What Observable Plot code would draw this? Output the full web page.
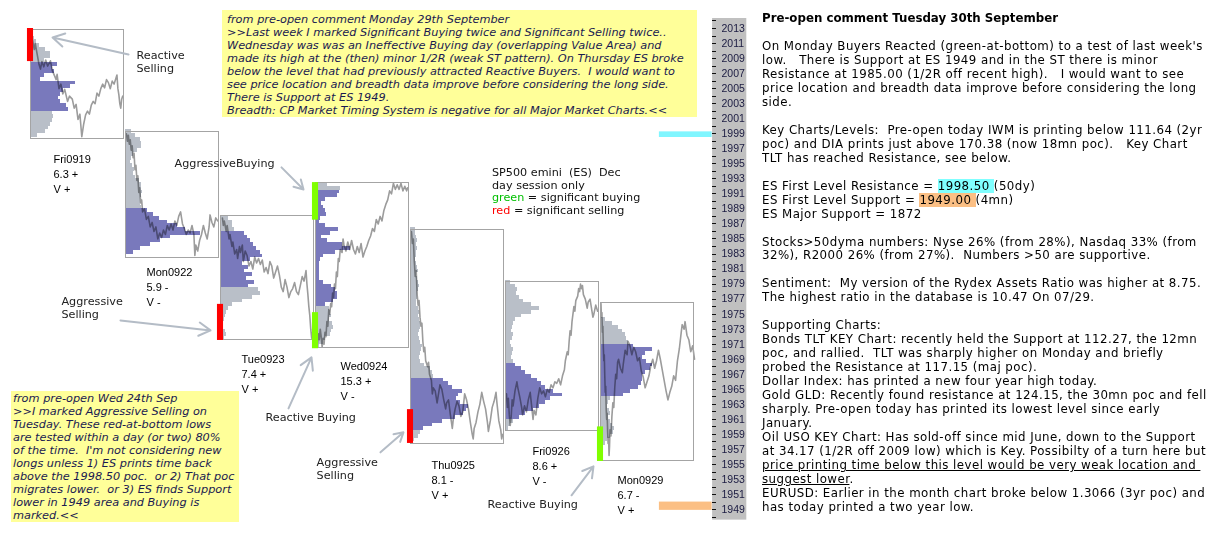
<!DOCTYPE html>
<html><head><meta charset="utf-8">
<script src="https://cdn.jsdelivr.net/npm/d3@7"></script>
<script src="https://cdn.jsdelivr.net/npm/@observablehq/plot@0.6"></script>
<style>
body{margin:0;background:#fff;}
#wrap{position:relative;width:1226px;height:533px;overflow:hidden;font-family:"DejaVu Sans",sans-serif;}
#chart{position:absolute;left:0;top:0;}
.note{position:absolute;background:#ffff99;font-style:italic;color:#1a1a50;font-size:11.3px;line-height:13px;white-space:pre;box-sizing:border-box;}
#panel{position:absolute;left:762px;top:12px;font-size:11.8px;letter-spacing:0.45px;color:#000;}
#panel .ln{height:13.97px;line-height:13.97px;white-space:pre;}
#legend{position:absolute;left:492px;top:167px;font-size:11.2px;color:#111;}
#legend .ln{height:12.7px;line-height:12.7px;white-space:pre;}
.b{font-weight:bold;font-size:11.8px;letter-spacing:0;}
.u{text-decoration:underline;}
.hc{background:#80ffff}.ho{background:#fbbf84}
.g{color:#00c000}.r{color:#ff0000}
</style></head>
<body><div id="wrap"><div id="chart"></div>
<div id="note1" class="note" style="left:222px;top:10px;width:475px;height:107px;padding:3px 0 0 5px;"></div>
<div id="note2" class="note" style="left:11px;top:391px;width:228px;height:131px;padding:1px 0 0 2px;"></div>
<div id="legend"></div>
<div id="panel"></div>
</div>
<script>
// ---- data ----
const days = ["Fri0919","Mon0922","Tue0923","Wed0924","Thu0925","Fri0926","Mon0929"];
const dayHigh = [2012.75,1999.25,1988,1992.5,1986.25,1979.25,1976.5];
const dayLow  = [1998.25,1982.5,1971.5,1970.5,1957.75,1959.5,1955.5];
const rangeStat = ["6.3 +","5.9 -","7.4 +","15.3 +","8.1 -","8.6 +","6.7 -"];
const volStat = ["V +","V -","V +","V -","V +","V -","V +"];
const vaLow  = [2002,1983,1978.5,1976,1959.5,1961,1964];
const vaHigh = [2008.5,1989,1986,1991.5,1966.5,1968.5,1971];
const profileStart = [1998.5,1983,1971.5,1970.5,1958,1959.5,1957.5];
const profile0 = [7,15,18,20,22,23,22,38,36,30,28,30,33,40,45,10,14,24,22,27,14,20,20,15,9,6,4];
const profile1 = [8,15,25,35,45,75,60,52,42,34,28,22,16,15,15,16,17,16,16,14,10,8,9,7,5,6,8,12,16,16,15,10,6];
const profile2 = [4,6,5,3,3,4,5,6,8,12,22,32,40,38,28,34,26,32,24,28,22,30,42,40,36,33,30,27,24,14,12,12,8];
const profile3 = [4,8,10,15,16,18,17,14,16,15,14,10,18,22,22,20,16,8,4,4,4,4,4,5,8,20,35,27,12,6,15,23,10,4,5,11,10,8,6,10,22,24,25,12];
const profile4 = [4,8,10,13,22,32,45,53,56,58,50,46,48,52,42,38,33,23,22,20,14,10,9,10,11,12,10,9,8,9,10,10,9,8,9,8,6,6,7,7,8,9,8,7,6,8,7,6,5,6,6,7,6,7,6,5,5];
const profile5 = [3,5,8,14,20,28,34,40,45,57,48,40,36,32,26,20,16,10,8,6,7,8,6,5,7,8,6,7,8,10,16,26,34,26,18,14,11,12,10,5];
const profile6 = [5,7,10,13,14,12,10,8,10,9,7,8,10,23,30,38,41,42,42,45,50,52,46,42,45,52,33,28,26,25,22,18,12,5];
const profiles = [profile0,profile1,profile2,profile3,profile4,profile5,profile6];
// price path [percent of day slot, price]
const line0 = [[2,2011.5],[4,2010.2],[5,2011.0],[7,2009.6],[9,2008.2],[10.5,2007.6],[12,2008.6],[14,2007.9],[16,2008.8],[18,2008.0],[21,2008.7],[23,2007.4],[25,2006.8],[27,2006.2],[28,2006.9],[30,2005.0],[32,2005.6],[34,2004.3],[36,2004.9],[39,2003.3],[41,2004.0],[44,2003.6],[46,2002.4],[48,2002.9],[50,2000.9],[52,2001.6],[54,1998.6],[56,2000.3],[58,2001.5],[60,2002.0],[62,2001.6],[64,2002.8],[66,2003.3],[68,2003.0],[70,2004.4],[72,2004.0],[74,2005.0],[76,2005.6],[78,2005.1],[80,2006.2],[82,2005.8],[84,2005.0],[86,2006.0],[88,2005.6],[90,2006.4],[91,2006.8],[92,2005.0],[93,2004.2],[94,2003.0],[95,2002.4],[96,2003.6],[97,2004.0]];
const line1 = [[1,1999.0],[2,1998.0],[3,1998.8],[4,1997.6],[5,1998.2],[6,1996.8],[7,1997.4],[8,1995.8],[9,1996.4],[10,1994.2],[11,1994.8],[12,1992.8],[13,1993.4],[14,1991.2],[15,1991.8],[16,1989.8],[17,1990.2],[18,1988.6],[20,1989.0],[22,1987.6],[24,1988.0],[26,1986.6],[28,1987.2],[30,1986.0],[32,1986.6],[34,1985.0],[36,1985.8],[38,1985.2],[40,1986.2],[42,1985.6],[44,1986.8],[46,1986.2],[48,1987.0],[50,1986.2],[52,1987.4],[54,1986.8],[56,1988.0],[58,1988.6],[60,1987.0],[62,1986.4],[64,1985.6],[66,1986.2],[68,1985.8],[70,1986.8],[72,1985.6],[73,1982.8],[74,1984.2],[76,1983.4],[78,1984.8],[80,1985.6],[82,1986.8],[84,1985.8],[86,1985.0],[88,1986.6],[89,1988.2],[91,1987.2],[93,1986.6],[95,1987.8],[97,1987.4]];
const line2 = [[2,1987.8],[3,1986.8],[4,1987.4],[6,1986.0],[7,1986.8],[9,1985.0],[10,1985.6],[12,1984.0],[13,1984.6],[15,1983.0],[17,1983.6],[18,1982.4],[20,1984.0],[21,1983.2],[23,1984.2],[24,1982.0],[26,1983.4],[28,1982.8],[30,1981.4],[32,1982.0],[34,1981.0],[36,1982.6],[38,1981.8],[40,1982.4],[42,1981.6],[44,1982.2],[46,1980.6],[48,1981.2],[50,1980.4],[52,1982.0],[54,1981.4],[56,1979.8],[58,1980.6],[60,1981.4],[62,1980.2],[64,1978.6],[66,1978.0],[68,1979.6],[70,1978.6],[72,1977.2],[74,1978.0],[76,1978.4],[78,1979.2],[80,1978.0],[82,1977.6],[84,1978.8],[86,1980.0],[88,1979.4],[90,1980.8],[91,1979.0],[92,1977.6],[93,1976.0],[94,1974.8],[95,1973.0],[96,1971.8],[97,1972.6]];
const line3 = [[1,1972.0],[2,1971.0],[3,1972.4],[4,1971.6],[5,1973.0],[6,1972.0],[7,1970.6],[8,1971.8],[9,1971.0],[10,1972.6],[11,1972.0],[12,1974.0],[13,1973.4],[14,1975.6],[15,1975.0],[16,1976.4],[17,1976.0],[18,1977.8],[19,1977.2],[20,1979.0],[21,1978.4],[22,1980.6],[23,1980.0],[24,1982.4],[25,1982.0],[26,1983.6],[28,1983.2],[29,1985.0],[30,1984.2],[32,1983.4],[34,1984.6],[36,1983.6],[38,1984.8],[40,1983.6],[42,1983.0],[44,1984.0],[46,1983.2],[48,1984.4],[50,1982.6],[52,1983.4],[54,1984.0],[56,1984.8],[58,1985.4],[60,1986.4],[62,1986.0],[64,1987.6],[66,1987.0],[68,1988.0],[70,1987.4],[72,1988.8],[74,1989.6],[76,1990.2],[78,1991.4],[80,1991.0],[82,1992.4],[84,1991.6],[86,1992.2],[88,1991.6],[90,1992.4],[92,1991.4],[94,1992.0],[96,1991.4],[97,1991.8]];
const line4 = [[1,1986.0],[2,1984.4],[3,1985.0],[4,1982.0],[5,1980.0],[6,1980.8],[7,1977.6],[8,1976.2],[9,1976.8],[10,1974.6],[11,1973.4],[12,1973.8],[13,1971.4],[14,1970.0],[15,1970.6],[16,1968.8],[18,1968.0],[19,1968.6],[20,1967.0],[22,1966.2],[23,1964.4],[24,1965.2],[26,1964.8],[28,1963.2],[29,1964.0],[31,1965.6],[33,1965.0],[35,1963.6],[37,1962.4],[38,1963.2],[40,1963.6],[42,1961.6],[44,1959.8],[45,1961.0],[47,1962.4],[49,1963.4],[51,1962.8],[53,1961.4],[55,1962.0],[57,1964.4],[59,1963.6],[61,1962.4],[63,1960.6],[65,1959.0],[66,1958.4],[67,1959.8],[69,1960.6],[71,1962.0],[73,1963.0],[75,1964.6],[77,1963.4],[79,1962.4],[81,1960.6],[82,1959.4],[84,1960.8],[86,1962.6],[88,1963.4],[90,1964.6],[91,1963.2],[93,1960.8],[95,1959.6],[96,1958.4],[97,1959.0]];
const line5 = [[1,1964.4],[2,1962.6],[3,1963.8],[4,1961.6],[5,1960.2],[6,1961.4],[7,1963.6],[8,1962.8],[10,1964.8],[12,1966.0],[13,1965.2],[15,1964.0],[17,1962.6],[18,1961.6],[20,1962.8],[22,1962.0],[24,1963.6],[26,1964.6],[27,1963.4],[29,1961.0],[30,1962.2],[32,1961.6],[34,1963.8],[36,1965.2],[38,1964.4],[40,1964.8],[42,1964.0],[44,1965.0],[46,1964.6],[48,1965.6],[50,1965.2],[52,1966.0],[54,1965.8],[56,1966.4],[58,1965.6],[60,1966.8],[62,1967.6],[63,1968.8],[65,1970.0],[66,1969.6],[67,1971.4],[68,1972.8],[69,1972.2],[70,1974.0],[72,1976.0],[73,1975.4],[74,1976.8],[76,1977.4],[77,1978.4],[78,1978.0],[79,1979.0],[80,1978.4],[81,1978.8],[82,1977.6],[84,1977.0],[86,1975.8],[87,1976.6],[89,1977.0],[90,1976.2],[92,1974.6],[93,1975.0],[95,1976.2],[97,1975.4]];
const line6 = [[0.5,1976.4],[1,1974.6],[1.5,1975.2],[2,1972.6],[2.5,1973.4],[3,1970.6],[3.5,1968.8],[4,1969.6],[4.5,1966.8],[5,1964.6],[5.5,1965.4],[6,1962.4],[6.5,1961.0],[7,1961.8],[7.5,1959.4],[8,1957.8],[8.5,1958.6],[9,1956.2],[9.5,1957.4],[10,1959.6],[11,1958.8],[12,1961.4],[13,1963.2],[14,1962.6],[15,1965.2],[16,1967.0],[17,1966.4],[18,1968.6],[19,1969.0],[21,1967.8],[23,1967.2],[24,1968.4],[26,1970.2],[28,1969.6],[29,1971.4],[31,1970.8],[33,1969.6],[35,1970.6],[37,1970.0],[39,1968.8],[41,1969.2],[43,1967.4],[45,1966.6],[47,1965.2],[49,1966.0],[51,1966.8],[53,1968.2],[55,1969.0],[57,1967.8],[59,1968.8],[61,1970.2],[63,1969.0],[65,1967.6],[67,1966.2],[69,1964.8],[71,1963.6],[73,1964.6],[75,1965.4],[77,1966.8],[79,1966.2],[81,1968.8],[83,1970.4],[85,1972.6],[86,1973.6],[88,1973.0],[89,1974.0],[91,1972.2],[93,1971.6],[95,1970.0],[97,1970.8],[99,1969.0]];
const lines = [line0,line1,line2,line3,line4,line5,line6];
// significant activity bars: day, from, to, kind
const sigDay  = [0,2,3,3,4,6];
const sigFrom = [2008.6,1971.5,1987.5,1970.4,1957.8,1955.4];
const sigTo   = [2013.0,1976.3,1992.5,1975.2,1962.3,1960.0];
const sigKind = ["sell","sell","buy","buy","sell","buy"];
// key levels
const levelNames = ["First Level Resistance","First Level Support"];
const levelLow  = [1998.5,1948.9];
const levelHigh = [1999.25,1950.0];
const axisLabels = [2013,2011,2009,2007,2005,2003,2001,1999,1997,1995,1993,1991,1989,1987,1985,1983,1981,1979,1977,1975,1973,1971,1969,1967,1965,1963,1961,1959,1957,1955,1953,1951,1949];
const annText = ["Reactive","Selling","AggressiveBuying","Aggressive","Selling","Reactive Buying","Aggressive","Selling","Reactive Buying"];

// ---- layout (data units: day slot, price) ----
const annPos = [[1.116,2009.41],[1.116,2007.68],[1.516,1995.05],[0.326,1976.70],[0.326,1974.97],[2.474,1961.27],[3.011,1955.29],[3.011,1953.56],[4.811,1949.70]];
const arrowPos = [[1.032,2009.54,0.232,2011.80],[2.642,1994.52,2.874,1991.59],[0.947,1974.17,1.895,1972.84],[2.716,1962.47,2.958,1969.25],[3.684,1956.62,3.926,1959.28],[5.695,1950.90,5.926,1954.76]];
const labelPos = [[0.242,1995.85],[1.221,1980.82],[2.221,1969.25],[3.263,1968.32],[4.221,1955.16],[5.284,1957.02],[6.179,1953.16]];
const BLUE = "#7979bc", GREY = "#b9bfc8";

const rows = [];
profiles.forEach((arr,i)=>arr.forEach((w,k)=>{const p=profileStart[i]+k*0.5; rows.push({day:i,p,w,va:p>=vaLow[i]&&p<vaHigh[i]});}));
const path = [];
lines.forEach((arr,i)=>arr.forEach(([t,p])=>path.push({day:i,x:i+t/100,p})));
const boxes = days.map((d,i)=>({i,hi:dayHigh[i],lo:dayLow[i],label:`${d}\n${rangeStat[i]}\n${volStat[i]}`,lx:labelPos[i][0],ly:labelPos[i][1]}));
const sigs = sigDay.map((d,k)=>({d,a:sigFrom[k],b:sigTo[k],c:sigKind[k]==="buy"?"#80ff00":"#ff0000"}));
const levels = levelNames.map((n,k)=>({n,a:levelLow[k],b:levelHigh[k],c:k===0?"#80f6ff":"#fbbf84"}));
const anns = annText.map((t,k)=>({t,x:annPos[k][0],y:annPos[k][1]}));
const arrows = arrowPos.map(a=>({x1:a[0],y1:a[1],x2:a[2],y2:a[3]}));

const chart = Plot.plot({
  width:760, height:533, margin:0,
  x:{domain:[0,7], range:[30,695], axis:null},
  y:{domain:[1949,2013], range:[509.1,28], axis:null},
  style:{background:"transparent", overflow:"visible"},
  marks:[
    Plot.rect([0],{x1:7.18,x2:7.54,y1:1947.6,y2:2014.33,fill:"#c0c0c0"}),
    Plot.ruleY(d3.range(1948,2015),{y:d=>d,x1:7.18,x2:7.225,stroke:"#111",strokeWidth:1,shapeRendering:"crispEdges"}),
    Plot.text(axisLabels,{x:7.274,y:d=>d,text:d=>String(d),textAnchor:"start",fontFamily:"Liberation Sans",fontSize:10.5,fill:"#1a1a40"}),
    Plot.rect(levels,{x1:6.62,x2:7.175,y1:"a",y2:"b",fill:"c"}),
    Plot.rect(rows,{x1:"day",x2:d=>d.day+d.w/95,y1:"p",y2:d=>d.p+0.5,fill:d=>d.va?BLUE:GREY,shapeRendering:"crispEdges"}),
    Plot.line(path,{x:"x",y:"p",z:"day",stroke:"#9c9c9c",strokeWidth:1.6,mixBlendMode:"multiply"}),
    Plot.rect(boxes,{x1:"i",x2:d=>d.i+0.98,y1:"lo",y2:"hi",fill:"none",stroke:"#a4a4a4",strokeWidth:1,shapeRendering:"crispEdges"}),
    Plot.rect(sigs,{x1:d=>d.d-0.032,x2:d=>d.d+0.032,y1:"a",y2:"b",fill:"c"}),
    Plot.text(boxes,{x:"lx",y:"ly",text:"label",textAnchor:"start",lineAnchor:"top",dy:-5,lineHeight:1.36,fontFamily:"Liberation Sans",fontSize:11,fill:"#000"}),
    Plot.text(anns,{x:"x",y:"y",text:"t",textAnchor:"start",fontFamily:"DejaVu Sans",fontSize:11.2,fill:"#222"}),
    Plot.arrow(arrows,{x1:"x1",y1:"y1",x2:"x2",y2:"y2",stroke:"#b4bcc6",strokeWidth:2,headLength:10})
  ]
});
document.getElementById("chart").appendChild(chart);

document.getElementById("note1").textContent = [
"from pre-open comment Monday 29th September",
">>Last week I marked Significant Buying twice and Significant Selling twice..",
"Wednesday was was an Ineffective Buying day (overlapping Value Area) and",
"made its high at the (then) minor 1/2R (weak ST pattern). On Thursday ES broke",
"below the level that had previously attracted Reactive Buyers.  I would want to",
"see price location and breadth data improve before considering the long side.",
"There is Support at ES 1949.",
"Breadth: CP Market Timing System is negative for all Major Market Charts.<<"].join("\n");

document.getElementById("note2").textContent = [
"from pre-open Wed 24th Sep",
">>I marked Aggressive Selling on",
"Tuesday. These red-at-bottom lows",
"are tested within a day (or two) 80%",
"of the time.  I'm not considering new",
"longs unless 1) ES prints time back",
"above the 1998.50 poc.  or 2) That poc",
"migrates lower.  or 3) ES finds Support",
"lower in 1949 area and Buying is",
"marked.<<"].join("\n");

function fill(el, lineList){
  lineList.forEach(segs=>{
    const ln = document.createElement("div"); ln.className="ln";
    segs.forEach(s=>{
      const sp = document.createElement("span");
      if (Array.isArray(s)) { sp.className = s[0]; sp.textContent = s[1]; } else sp.textContent = s;
      ln.appendChild(sp);
    });
    el.appendChild(ln);
  });
}

fill(document.getElementById("legend"), [
["SP500 emini  (ES)  Dec"],
["day session only"],
[["g","green"]," = significant buying"],
[["r","red"]," = significant selling"]]);

fill(document.getElementById("panel"), [
[["b","Pre-open comment Tuesday 30th September"]],
[],
["On Monday Buyers Reacted (green-at-bottom) to a test of last week's"],
["low.   There is Support at ES 1949 and in the ST there is minor"],
["Resistance at 1985.00 (1/2R off recent high).   I would want to see"],
["price location and breadth data improve before considering the long"],
["side."],
[],
["Key Charts/Levels:  Pre-open today IWM is printing below 111.64 (2yr"],
["poc) and DIA prints just above 170.38 (now 18mn poc).   Key Chart"],
["TLT has reached Resistance, see below."],
[],
["ES First Level Resistance = ",["hc","1998.50 "],"(50dy)"],
["ES First Level Support = ",["ho","1949.00 "],"(4mn)"],
["ES Major Support = 1872"],
[],
["Stocks>50dyma numbers: Nyse 26% (from 28%), Nasdaq 33% (from"],
["32%), R2000 26% (from 27%).  Numbers >50 are supportive."],
[],
["Sentiment:  My version of the Rydex Assets Ratio was higher at 8.75."],
["The highest ratio in the database is 10.47 On 07/29."],
[],
["Supporting Charts:"],
["Bonds TLT KEY Chart: recently held the Support at 112.27, the 12mn"],
["poc, and rallied.  TLT was sharply higher on Monday and briefly"],
["probed the Resistance at 117.15 (maj poc)."],
["Dollar Index: has printed a new four year high today."],
["Gold GLD: Recently found resistance at 124.15, the 30mn poc and fell"],
["sharply. Pre-open today has printed its lowest level since early"],
["January."],
["Oil USO KEY Chart: Has sold-off since mid June, down to the Support"],
["at 34.17 (1/2R off 2009 low) which is Key. Possibilty of a turn here but"],
[["u","price printing time below this level would be very weak location and "]],
[["u","suggest lower"],"."],
["EURUSD: Earlier in the month chart broke below 1.3066 (3yr poc) and"],
["has today printed a two year low."]]);
</script></body></html>
